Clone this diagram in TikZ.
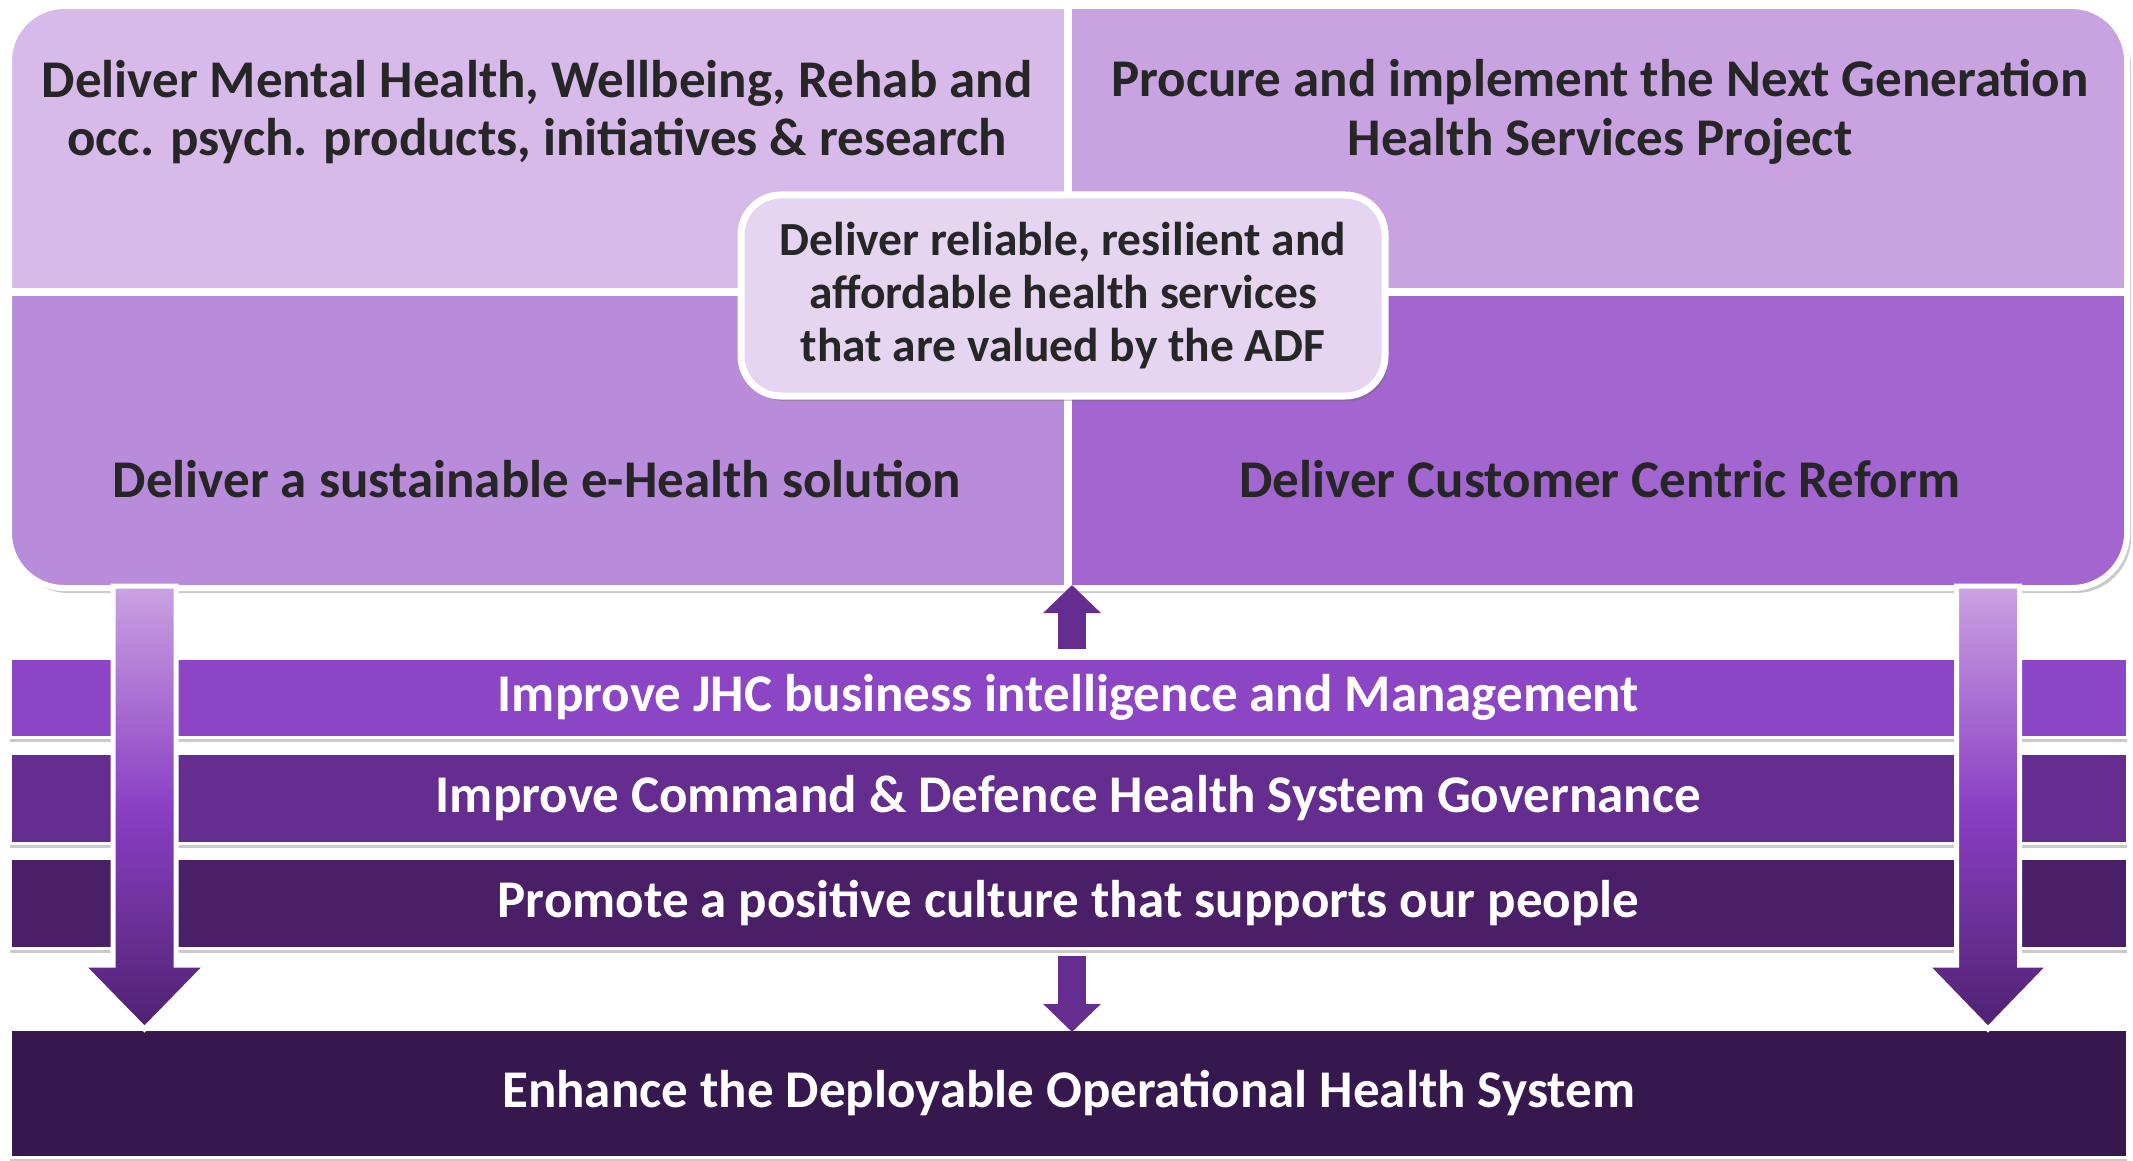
\documentclass[tikz,border=0pt]{standalone}
\usepackage{fontspec}
\setmainfont{Carlito}
\usetikzlibrary{shadows,arrows.meta}
\definecolor{qTL}{HTML}{D8BAEA}
\definecolor{qTR}{HTML}{C9A2E2}
\definecolor{qBL}{HTML}{B98BDB}
\definecolor{qBR}{HTML}{A365D0}
\definecolor{cbox}{HTML}{E6D5F1}
\definecolor{bandA}{HTML}{8C45C5}
\definecolor{bandB}{HTML}{652D90}
\definecolor{bandC}{HTML}{4A1F68}
\definecolor{bandD}{HTML}{36184F}
\definecolor{arrS}{HTML}{662D91}
\definecolor{arrTop}{HTML}{CAA2E2}
\definecolor{arrMid}{HTML}{8B3FC4}
\definecolor{arrBot}{HTML}{4E2270}
\definecolor{txtdark}{HTML}{262626}
\begin{document}
\begin{tikzpicture}[x=1pt,y=-1pt,
  quadtxt/.style={font=\fontsize{53}{58.5}\selectfont\bfseries, align=center, text=txtdark, inner sep=0pt},
  centtxt/.style={font=\fontsize{47.5}{53}\selectfont\bfseries, align=center, text=txtdark},
  band/.style={draw=white, line width=3pt, minimum width=2117pt, inner sep=0pt,
    font=\fontsize{53}{58.5}\selectfont\bfseries, text=white,
    drop shadow={shadow xshift=0pt, shadow yshift=-5pt, opacity=0.35, fill=black!60}},
  bigarrow/.style={draw=white, line width=5pt, line join=miter,
    top color=arrTop, bottom color=arrBot, middle color=arrMid},
  smallarrow/.style={draw=arrS, line width=28pt, -{Triangle[width=56pt,length=28pt]}}
]
\useasboundingbox (0,0) rectangle (2133,1161);

% top block
\path[rounded corners=55pt, fill=white,
  drop shadow={shadow xshift=4pt, shadow yshift=-5pt, opacity=0.35, fill=black!60}]
  (9,6) rectangle (2127,588);
\begin{scope}
  \clip[rounded corners=55pt] (9,6) rectangle (2127,588);
  \fill[qTL] (9,6) rectangle (1068,292);
  \fill[qTR] (1068,6) rectangle (2127,292);
  \fill[qBL] (9,292) rectangle (1068,588);
  \fill[qBR] (1068,292) rectangle (2127,588);
  \draw[white, line width=8pt] (1068,6) -- (1068,588);
  \draw[white, line width=8pt] (9,292) -- (2127,292);
\end{scope}
\draw[white, line width=6pt, rounded corners=55pt] (9,6) rectangle (2127,588);

\node[quadtxt] (tl) at (537,112) {Deliver Mental Health, Wellbeing, Rehab and\\occ. psych. products, initiatives \& research};
\node[quadtxt] (tr) at (1600,112) {Procure and implement the Next Generation\\Health Services Project};
\node[quadtxt] (bl) at (537,479) {Deliver a sustainable e-Health solution};
\node[quadtxt] (br) at (1600,479) {Deliver Customer Centric Reform};

% centre box
\node[centtxt, fill=cbox, draw=white, line width=7pt, rounded corners=40pt,
  minimum width=644pt, minimum height=201pt,
  drop shadow={shadow xshift=3pt, shadow yshift=-5pt, opacity=0.35, fill=black!60}]
  (core) at (1063,295.5) {Deliver reliable, resilient and\\affordable health services\\that are valued by the ADF};

% bands
\node[band, fill=bandA, minimum height=79pt] (b1) at (1068.5,697.5) {Improve JHC business intelligence and Management};
\node[band, fill=bandB, minimum height=90pt] (b2) at (1068.5,798) {Improve Command \& Defence Health System Governance};
\node[band, fill=bandC, minimum height=90pt] (b3) at (1068.5,903) {Promote a positive culture that supports our people};
\node[band, fill=bandD, minimum height=128pt] (b4) at (1068.5,1093) {Enhance the Deployable Operational Health System};

% big arrows
\draw[bigarrow] (113,586) -- (176,586) -- (176,965) -- (207,965) -- (144.5,1029) -- (82,965) -- (113,965) -- cycle;
\draw[bigarrow] (1956.5,586) -- (2019.5,586) -- (2019.5,965) -- (2050,965) -- (1988,1029) -- (1926,965) -- (1956.5,965) -- cycle;

% small arrows
\coordinate (upS) at (1072,649);
\coordinate (upE) at (1072,585);
\coordinate (dnS) at (1072,956);
\coordinate (dnE) at (1072,1032);
\draw[smallarrow] (upS) -- (upE);
\draw[smallarrow] (dnS) -- (dnE);
\end{tikzpicture}
\end{document}
